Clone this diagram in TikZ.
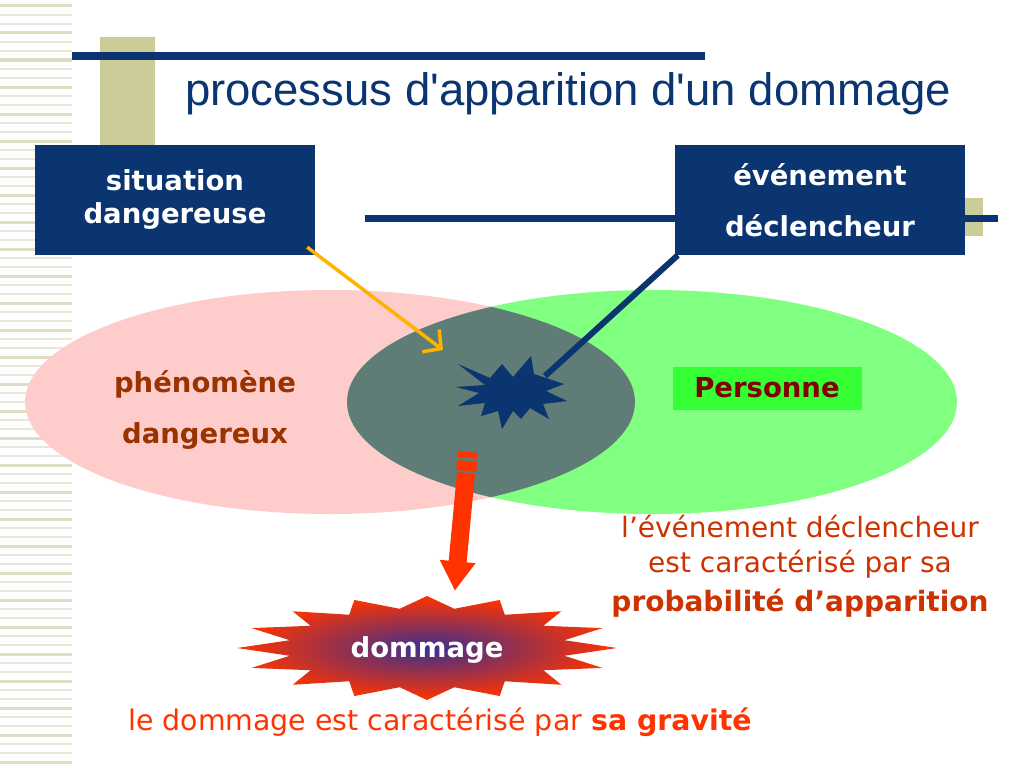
\documentclass[tikz,border=0pt]{standalone}
\usepackage{fontspec}
\setmainfont{DejaVu Sans}
\newfontfamily\titlefont[Ligatures=TeXOff]{Liberation Sans}
\usetikzlibrary{arrows.meta}

\definecolor{navy}{HTML}{0A3570}
\definecolor{khaki}{HTML}{CCCC99}
\definecolor{stripe}{HTML}{DDDDC4}
\definecolor{stripelight}{HTML}{E8E8D8}
\definecolor{rosefill}{HTML}{FFCCCC}
\definecolor{vertfill}{HTML}{80FF80}
\definecolor{lensfill}{HTML}{5F7C76}
\definecolor{brique}{HTML}{993300}
\definecolor{rouille}{HTML}{CC3300}
\definecolor{vif}{HTML}{FF3300}
\definecolor{ambre}{HTML}{FFB300}
\definecolor{bordeaux}{HTML}{800000}
\definecolor{pomme}{HTML}{33FF33}
\definecolor{pourpre}{HTML}{3B2F8F}

\tikzset{
  navybox/.style={fill=navy, text=white, inner sep=0pt, align=center,
    font=\bfseries\fontsize{27.5}{33}\selectfont},
  gras/.style={font=\bfseries\fontsize{27.5}{33}\selectfont},
  texte/.style={font=\fontsize{28}{35}\selectfont, align=center, inner sep=0pt}
}

\begin{document}
\begin{tikzpicture}[x=1pt,y=-1pt]
        \useasboundingbox[fill=white] (0,0) rectangle (1024,768);
        \foreach \y in {6,15,...,766}
          \draw[stripelight, line width=1.2] (0,\y) -- (72,\y);
        \foreach \y in {6,33,...,766}
          \draw[stripe, line width=3] (0,\y) -- (72,\y);

        \fill[khaki] (100,37) rectangle (155,145);
        \draw[navy, line width=7] (72,56) -- (705,56);
        \node[anchor=base west, inner sep=0pt, text=navy,
          font=\titlefont\fontsize{45.5}{54}\selectfont] (title) at (185,105)
        {processus d'apparition d'un dommage};

        \fill[khaki] (965,198) rectangle (983,236);
        \draw[navy, line width=7] (365,218) -- (998,218);

        \node[navybox, minimum width=280, minimum height=110] (sit) at (175,200)
        {situation\\dangereuse};
        \node[navybox, minimum width=290, minimum height=110] (evt) at (820,200)
        {événement\\[18pt]déclencheur};

        \fill[rosefill] (330,402) ellipse (305 and 112);
        \fill[vertfill] (652,402) ellipse (305 and 112);
        \begin{scope}
          \clip (330,402) ellipse (305 and 112);
          \fill[lensfill] (652,402) ellipse (305 and 112);
        \end{scope}

        \node[gras, text=brique, align=center] (phen) at (205,410)
        {phénomène\\[18pt]dangereux};
        \node[gras, fill=pomme, text=bordeaux, minimum width=189,
          minimum height=43, inner sep=0pt] (pers) at (767,388) {Personne};

        \coordinate (impact) at (443,350);
        \coordinate (spark) at (510,392);
        \coordinate (fuse) at (545,376);
        \draw[ambre, line width=3.5, -{Straight Barb[length=13pt,width=28pt]}]
          ([shift={(-8,-8)}]sit.south east) -- (impact);
        \draw[navy, line width=6] ([xshift=3pt]evt.south west) -- (fuse);
        \fill[navy, shift={(spark)}] (-52,-28) -- (-20,-14) -- (-8,-28) -- (3,-15)
          -- (21,-36) -- (24,-18) -- (54,-8) -- (36,-1) -- (57,9) -- (33,12)
          -- (39,27) -- (20,16) -- (11,27) -- (3,19) -- (-8,37) -- (-12,19)
          -- (-29,24) -- (-25,11) -- (-52,14) -- (-31,1) -- (-54,-5) -- (-25,-7)
          -- cycle;

        \coordinate (drop) at (468,452);
        \begin{scope}[shift={(drop)}, rotate=-5.4]
          \fill[vif] (-10,0) rectangle (10,6);
          \fill[vif] (-10,9) rectangle (10,19);
          \fill[vif] (-9,21) -- (9,21) -- (9,110) -- (18,110) -- (0,139)
            -- (-18,110) -- (-9,110) -- cycle;
        \end{scope}

        \coordinate (burst) at (427,648);
        \shade[inner color=pourpre, outer color=vif, shift={(burst)}]
          (180:190 and 52) \foreach \k in {1,...,16} {
            -- ({180+22.5*\k-11.25}:140 and 40) -- ({180+22.5*\k}:190 and 52) }
          -- cycle;
        \node[gras, text=white] (dmg) at (427,650) {dommage};

        \node[texte, text=rouille] (proba) at (800,566)
        {l’événement déclencheur\\est caractérisé par sa\\[4pt]\textbf{probabilité d’apparition}};
        \node[texte, text=vif, anchor=base, font=\fontsize{28.4}{35}\selectfont] (grav) at (440,730)
        {le dommage est caractérisé par \textbf{sa gravité}};
      \end{tikzpicture}
\end{document}
